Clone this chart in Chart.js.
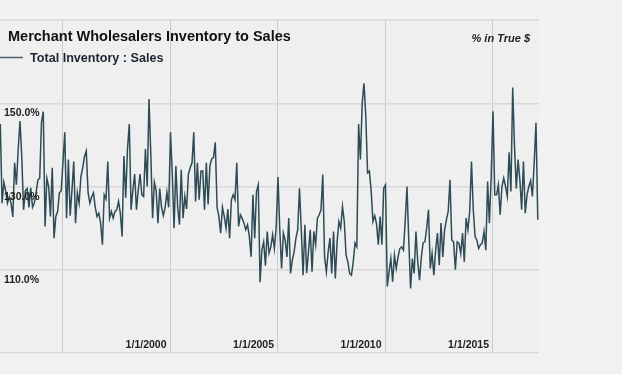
<!DOCTYPE html>
<html>
<head>
<meta charset="utf-8">
<script src="https://cdn.jsdelivr.net/npm/chart.js@4/dist/chart.umd.min.js"></script>
<style>
    html, body { margin: 0; padding: 0; background: #f2f2f2; }
    canvas { display: block; }
</style>
</head>
<body>
<canvas id="inventoryChart" width="622" height="374"></canvas>
<script>
(function() {
    "use strict";

    // monthly values, % (first point Feb 1992)
    var startYear = 1992;
    var startMonth = 2;
    var ratios = [
        145, 126, 131, 129, 126, 127.5, 126, 122.7, 135.7, 130.4, 139, 145.7,
        137, 124.4, 129, 129.5, 125, 129.7, 125, 126, 128.6, 131.6, 132, 145.4,
        148, 120.4, 132, 130, 122.8, 134.5, 117.6, 122.8, 124, 128.5, 129, 136,
        143, 122.4, 136.5, 123, 129, 136, 121.2, 128.5, 126, 132.4, 134.5, 137.2,
        138.5, 128.5, 126, 127.5, 128.5, 125, 122.8, 123.6, 121.2, 116, 128,
        127, 136, 122.4, 124, 122.4, 124, 124.4, 126.4, 123.6, 118, 137.3, 127.3,
        139, 145, 124.4, 129.2, 133, 124.4, 129.2, 133, 128, 127.6, 139, 130,
        151, 138, 122.4, 131, 129, 121.2, 129.5, 125, 123, 125, 128.6, 125,
        143, 133, 120, 134.9, 125, 120.8, 134, 122.4, 127.6, 124.6, 133, 134.5,
        135.7, 143, 126.4, 135.7, 126.8, 133.7, 133.7, 124.4, 135.7, 125.7, 135, 136.6,
        137, 140.6,
        125, 122.8, 118.8, 125, 122.8, 120, 124.6, 117.6, 126.8, 128, 126.8, 135.7,
        120.4, 123.2, 122.4, 121.2, 119.6, 120.8, 118, 113.1, 128, 117.6, 128.8, 130.4,
        107, 114.7, 116.7, 111, 119.2, 114, 115.5, 118.4, 115.1, 120.4, 132.3, 119.6,
        110.3, 118.8, 117.1, 113.1, 122.4, 109.1, 112.3, 114.3, 117.6, 119.6, 129.6, 119.6,
        108.7, 120.8, 109.2, 114.3, 119.6, 109.5, 119.2, 116, 122.4, 123.2, 124.4, 132.9,
        113.1,
        109.5, 114.3, 117.6, 109.1, 119.2, 107.9, 116.7, 121.6, 120, 125.2, 121.6, 113.5,
        111.9, 109.1, 108.7, 111.9, 116.4, 115.5, 145, 136.5, 150, 154.8, 147, 133.3,
        133.7, 129, 121.6, 123, 121, 116, 122.8, 116, 129.6, 130.4, 106, 109.5,
        112.7, 107.1, 113.5, 110.3, 113.1, 115.1, 115.5, 114.7, 121.6, 130, 117, 105.5,
        112.7, 109.1, 119.2, 111.9, 107.5, 113, 116.5, 116.7, 120, 124.4,
        110.3, 113.9, 108.7, 114.7, 118.8, 111.1, 121.2, 113.1, 119.6, 122, 124, 131.6,
        117.1, 116.7, 110, 116.7, 116.4, 113.9, 118.8, 111.9, 122.4, 119.6, 124, 136,
        124.4, 118, 117.1, 115.1, 116, 116.4, 119.2, 114.7, 131.2, 121.2, 132.4, 148.1,
        128, 128, 130.4, 123.2, 130, 132, 130, 127.6, 138.2, 128.8, 153.8, 139.7,
        129.5, 136.5, 131.6, 124.4, 136, 123.6, 128, 130, 131.4, 127.6, 135.7, 145.3,
        122
    ];

    var yLabelValues = [110, 130, 150];
    var xGridYears = [1995, 2000, 2005, 2010, 2015];
    var xLabelYears = [2000, 2005, 2010, 2015];

    var chartTitle = "Merchant Wholesalers Inventory to Sales";
    var seriesName = "Total Inventory : Sales";
    var unitLabel = "% in True $";

    var FONT = "'Liberation Sans', Arial, sans-serif";
    var lineColor = "#2e4c56";

    var points = ratios.map(function(v, i) {
        return { x: startYear + (startMonth - 1 + i) / 12, y: v };
    });

    var framePlugin = {
        id: "frame",
        beforeDraw: function(chart) {
            var ctx = chart.ctx;
            var area = chart.chartArea;
            ctx.save();
            ctx.fillStyle = "#f2f2f2";
            ctx.fillRect(0, 0, chart.width, chart.height);
            ctx.fillStyle = "#efefef";
            ctx.fillRect(area.left, area.top, area.right - area.left, area.bottom - area.top);
            ctx.restore();
        },
        afterDraw: function(chart) {
            var ctx = chart.ctx;
            var xs = chart.scales.x;
            var ys = chart.scales.y;

            ctx.save();
            ctx.textBaseline = "alphabetic";

            // title
            ctx.fillStyle = "#111111";
            ctx.textAlign = "left";
            ctx.font = "bold 14.5px " + FONT;
            ctx.fillText(chartTitle, 8, 41);

            // legend
            ctx.strokeStyle = "#4d6169";
            ctx.lineWidth = 1.5;
            ctx.beginPath();
            ctx.moveTo(0, 57.5);
            ctx.lineTo(23, 57.5);
            ctx.stroke();
            ctx.fillStyle = "#1c2633";
            ctx.font = "bold 12.6px " + FONT;
            ctx.fillText(seriesName, 30, 62);

            // unit note
            ctx.fillStyle = "#222222";
            ctx.textAlign = "right";
            ctx.font = "italic bold 11px " + FONT;
            ctx.fillText(unitLabel, 530, 42);

            // y labels, just under their grid lines
            ctx.textAlign = "left";
            ctx.font = "bold 10.5px " + FONT;
            yLabelValues.forEach(function(v) {
                ctx.fillText(v.toFixed(1) + "%", 4, ys.getPixelForValue(v) + 13);
            });

            // x labels, right-aligned to their grid lines
            ctx.textAlign = "right";
            xLabelYears.forEach(function(yr) {
                ctx.fillText("1/1/" + yr, xs.getPixelForValue(yr) - 4, 348);
            });

            ctx.restore();
        }
    };

    new Chart(document.getElementById("inventoryChart").getContext("2d"), {
        type: "line",
        data: {
            datasets: [{
                label: seriesName,
                data: points,
                borderColor: lineColor,
                borderWidth: 1.5,
                pointRadius: 0,
                tension: 0,
                fill: false
            }]
        },
        options: {
            responsive: false,
            animation: false,
            devicePixelRatio: 1,
            layout: {
                padding: { left: 0, right: 83, top: 20, bottom: 21 }
            },
            plugins: {
                legend: { display: false },
                title: { display: false },
                tooltip: { enabled: false }
            },
            scales: {
                x: {
                    type: "linear",
                    min: 1992.07,
                    max: 2017.14,
                    afterBuildTicks: function(axis) {
                        axis.ticks = xGridYears.map(function(v) { return { value: v }; });
                    },
                    ticks: { display: false },
                    border: { display: false },
                    grid: {
                        color: "#cbcbcb",
                        lineWidth: 1,
                        drawTicks: false
                    }
                },
                y: {
                    min: 90,
                    max: 170,
                    ticks: { display: false, stepSize: 20 },
                    border: { display: false },
                    grid: {
                        color: "#d9d9d9",
                        lineWidth: 1.5,
                        drawTicks: false
                    }
                }
            }
        },
        plugins: [framePlugin]
    });
})();
</script>
</body>
</html>
